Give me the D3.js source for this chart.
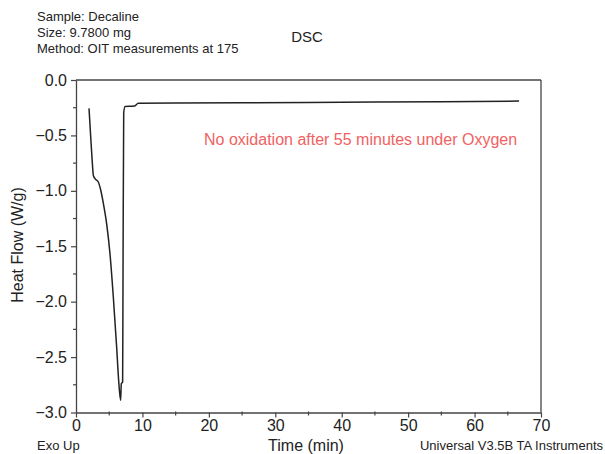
<!DOCTYPE html>
<html><head><meta charset="utf-8">
<script src="https://cdn.jsdelivr.net/npm/d3@7"></script>
<style>body{margin:0;background:#fff}svg{display:block;font-family:"Liberation Sans",Arial,sans-serif}</style>
</head><body>
<svg id="c" width="605" height="454"></svg>
<script>
const times  = [1.96, 2.21, 2.46, 2.61, 2.86, 3.36, 3.71, 4.11, 4.62, 5.12, 5.62, 6.12, 6.42, 6.72, 6.82, 7.02, 7.08, 7.18, 7.38, 8.78, 9.38, 15, 25, 35, 45, 55, 66.7];
const heatFlow = [-0.256, -0.51, -0.75, -0.86, -0.89, -0.92, -0.99, -1.11, -1.30, -1.57, -1.96, -2.41, -2.71, -2.89, -2.74, -2.725, -1.72, -0.30, -0.24, -0.235, -0.21, -0.208, -0.205, -0.202, -0.199, -0.196, -0.19];
const xTicks = [0, 10, 20, 30, 40, 50, 60, 70];
const xMinor = [5, 15, 25, 35, 45, 55, 65];
const yTicks = [0, -0.5, -1.0, -1.5, -2.0, -2.5, -3.0];
const yMinor = [-0.25, -0.75, -1.25, -1.75, -2.25, -2.75];
const headerLines = ["Sample: Decaline", "Size: 9.7800 mg", "Method: OIT measurements at 175"];
const annotation = "No oxidation after 55 minutes under Oxygen";

const svg = d3.select("#c");
const x = d3.scaleLinear().domain([0, 70]).range([76, 541]);
const y = d3.scaleLinear().domain([-3, 0]).range([412.5, 80]);
const axisColor = "#444";

// header
svg.append("g").selectAll("text").data(headerLines).join("text")
  .attr("x", 37).attr("y", (d, i) => 21 + i * 16).attr("font-size", 13).attr("fill", "#222").text(d => d);
svg.append("text").attr("x", 307).attr("y", 42).attr("text-anchor", "middle").attr("font-size", 15).attr("fill", "#222").text("DSC");

// frame top/right
svg.append("line").attr("x1", x(0)).attr("x2", x(70)).attr("y1", y(0)).attr("y2", y(0)).attr("stroke", axisColor).attr("stroke-width", 1.3);
svg.append("line").attr("x1", x(70)).attr("x2", x(70)).attr("y1", y(0)).attr("y2", y(-3)).attr("stroke", axisColor).attr("stroke-width", 1.3);

const xAxis = d3.axisBottom(x).tickValues(xTicks).tickFormat(d3.format("d")).tickSize(5).tickSizeOuter(0);
const yAxis = d3.axisLeft(y).tickValues(yTicks).tickFormat(d3.format(".1f")).tickSize(5).tickSizeOuter(0);
const gx = svg.append("g").attr("transform", `translate(0,${y(-3)})`).call(xAxis);
const gy = svg.append("g").attr("transform", `translate(${x(0)},0)`).call(yAxis);
[gx, gy].forEach(g => {
  g.select(".domain").attr("stroke", axisColor).attr("stroke-width", 1.3);
  g.selectAll(".tick line").attr("stroke", axisColor).attr("stroke-width", 1.2);
  g.selectAll(".tick text").attr("font-size", 16).attr("fill", "#222").attr("font-family", "Liberation Sans, Arial, sans-serif");
});
gx.selectAll(".tick text").attr("y", 7).attr("dy", "0.71em");
gy.selectAll(".tick text").attr("x", -9);
svg.append("g").selectAll("line").data(xMinor).join("line")
  .attr("x1", d => x(d)).attr("x2", d => x(d)).attr("y1", y(-3) - 1).attr("y2", y(-3) + 3).attr("stroke", axisColor).attr("stroke-width", 1.2);
svg.append("g").selectAll("line").data(yMinor).join("line")
  .attr("x1", x(0) - 3).attr("x2", x(0) + 1).attr("y1", d => y(d)).attr("y2", d => y(d)).attr("stroke", axisColor).attr("stroke-width", 1.2);

// labels
svg.append("text").attr("transform", "translate(23,245) rotate(-90)").attr("text-anchor", "middle").attr("font-size", 16).attr("fill", "#222").text("Heat Flow (W/g)");
svg.append("text").attr("x", 306).attr("y", 451).attr("text-anchor", "middle").attr("font-size", 16).attr("fill", "#222").text("Time (min)");
svg.append("text").attr("x", 37).attr("y", 450).attr("font-size", 13).attr("fill", "#222").text("Exo Up");
svg.append("text").attr("x", 603).attr("y", 450).attr("text-anchor", "end").attr("font-size", 13).attr("fill", "#222").text("Universal V3.5B TA Instruments");

// annotation
svg.append("text").attr("x", 204).attr("y", 144.5).attr("font-size", 16).attr("fill", "#f06262").text(annotation);

// curve
const pts = times.map((t, i) => [t, heatFlow[i]]);
svg.append("path").datum(pts).attr("fill", "none").attr("stroke", "#222").attr("stroke-width", 1.5)
  .attr("d", d3.line().x(d => x(d[0])).y(d => y(d[1])).curve(d3.curveMonotoneX));
</script>
</body></html>
